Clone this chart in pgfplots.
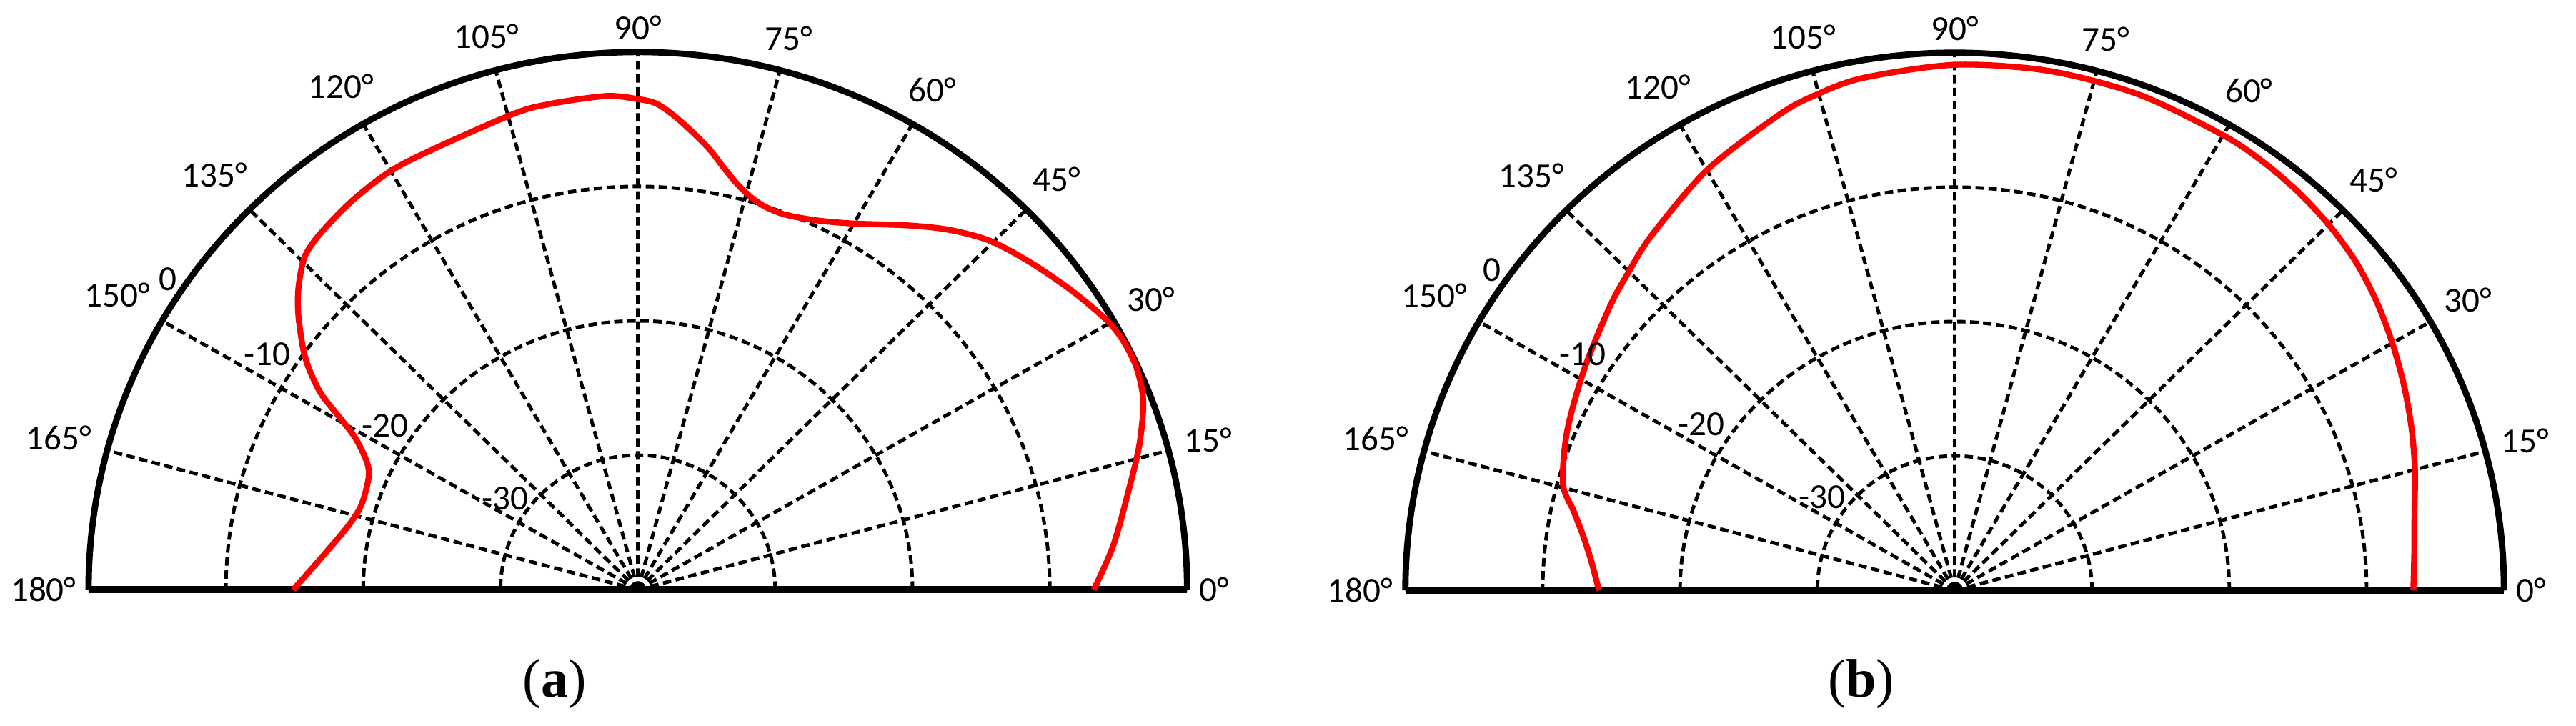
\documentclass[border=0pt]{standalone}
\usepackage{pgfplots}
\pgfplotsset{compat=1.18}
\usepgfplotslibrary{polar}
\usepackage{fontspec}
\setmainfont{Carlito}
\newfontfamily\capfont{Liberation Serif}
\definecolor{curvered}{RGB}{255,0,0}

\tikzset{rlab/.style={font=\fontsize{10}{12}\selectfont, inner sep=0pt}}
\pgfplotsset{
  myhalf/.style={
    scale only axis, width=312.6pt, height=306pt,
    xmin=0, xmax=180, ymin=0, ymax=40,
    xtick={0,15,...,180},
    xticklabel={\pgfmathprintnumber[assume math mode=true]{\tick}°},
    ytick={10,20,30},
    yticklabels={},
    grid=major,
    major grid style={black, line width=1pt, dash pattern=on 2.4pt off 1.3pt},
    major tick length=0pt,
    x axis line style={line width=1.8pt},
    y axis line style={line width=2pt},
    tick label style={font=\fontsize{10}{12}\selectfont},
    anchor=origin,
    clip=false,
  },
}

\begin{document}
\begin{tikzpicture}
\path[use as bounding box] (0,0) rectangle (733pt,206.4pt);

\begin{polaraxis}[myhalf, at={(181.5pt,38.6pt)}]
\addplot[curvered, line width=1.7pt, smooth] coordinates {
(0,33.2) (5.5,34.8) (12,36.6) (16.5,38.1) (20.9,39.4) (24.5,39.9) (27.7,39.9)
(30.4,39.6) (34.9,38.7) (40.2,37.6) (45.3,36.5) (49.7,35.1) (54,33.5)
(60.2,31.4) (64.7,30.4) (68.9,29.9) (71.8,29.95) (74.05,30.3) (76.4,31.0)
(78.7,32.0) (81.0,33.2) (83.5,34.35) (85.8,35.4) (87.9,36.2) (90,36.5)
(93.6,36.8) (100,36.7) (104.8,36.5) (118.2,36.0) (124.9,35.7)
(130.8,35.2) (134.3,34.7) (137.5,33.5) (140.2,32.2) (143.6,30.3) (145.6,29.0)
(147.7,27.3) (149.3,25.4) (151.2,23.5) (154.3,21.9) (157,21.3) (162.7,21.1)
(167.5,21.65) (174.2,23.2) (180,25.1)
};
\node[rlab] at (axis cs:146,41.3) {0};
\node[rlab] at (axis cs:147,32.2) {-10};
\node[rlab] at (axis cs:146.5,22.1) {-20};
\node[rlab] at (axis cs:145,11.8) {-30};
\end{polaraxis}

\begin{polaraxis}[myhalf, at={(556.2pt,38.4pt)}]
\addplot[curvered, line width=1.7pt, smooth] coordinates {
(0,33.4) (5,33.6) (10,34.0) (15,34.7) (20,35.4) (25,36.1) (30,36.8) (35,37.5)
(40,38.1) (45,38.5) (50,38.8) (55,39.0) (60,39.1) (70,39.25) (80,39.25)
(90,39.1) (100,38.7) (105.6,38.2) (110,37.6) (120,36.1) (130,34.4)
(135.3,33.5) (140,32.8) (148.6,31.6) (157.3,30.6) (164.5,29.6) (167.9,28.4)
(171.1,27.45) (175,26.6) (180,25.9)
};
\node[rlab] at (axis cs:144.7,41.3) {0};
\node[rlab] at (axis cs:147,32.3) {-10};
\node[rlab] at (axis cs:146.2,22.2) {-20};
\node[rlab] at (axis cs:144.2,11.9) {-30};
\end{polaraxis}

\node[font=\capfont\fontsize{15.5}{18}\selectfont] at (157.8pt,11.8pt) {(\textbf{a})};
\node[font=\capfont\fontsize{15.5}{18}\selectfont] at (529.6pt,11.8pt) {(\textbf{b})};
\end{tikzpicture}
\end{document}
